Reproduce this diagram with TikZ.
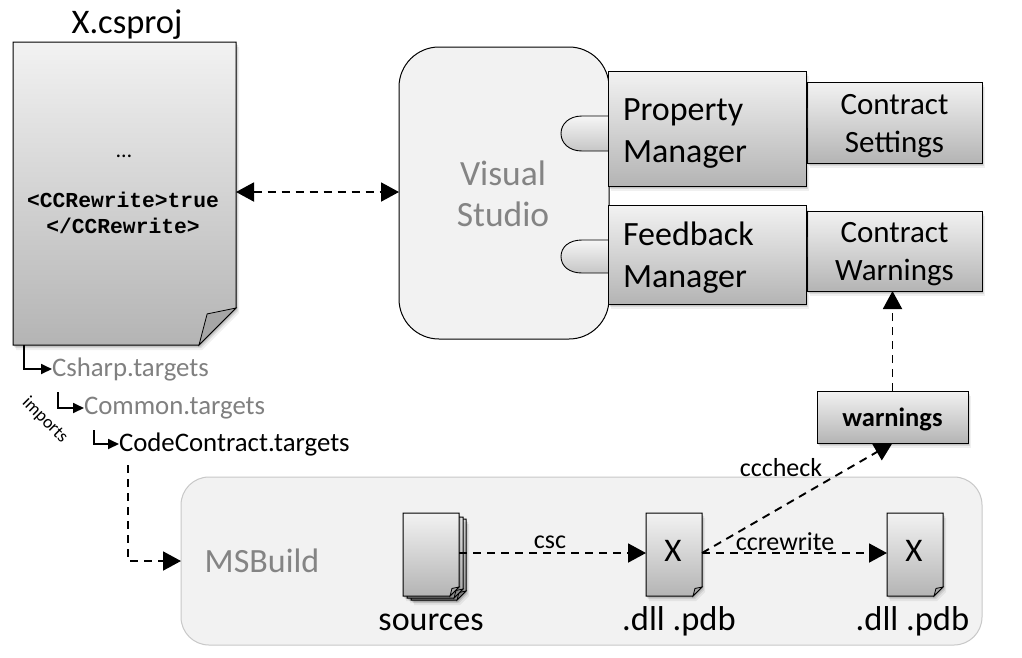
\documentclass[tikz,border=0pt]{standalone}
\usepackage{fontspec}
\setmainfont{Carlito}
\newfontfamily\codefont{Liberation Mono}
\usetikzlibrary{arrows.meta,shadows,positioning}
\newcommand{\fsz}[1]{\fontsize{#1}{#1}\selectfont}
\tikzset{
  softshadow/.style={
    drop shadow={shadow xshift=1pt,shadow yshift=-2pt,opacity=.10,fill=black},
    drop shadow={shadow xshift=2pt,shadow yshift=-3pt,opacity=.09,fill=black},
    drop shadow={shadow xshift=3pt,shadow yshift=-5pt,opacity=.06,fill=black}},
  grad/.style={top color=boxtop,bottom color=boxbot},
  boxed/.style={draw=black,line width=1pt,grad,softshadow,inner sep=0pt,outer sep=0pt},
  anchorbox/.style={inner sep=0pt,outer sep=0pt,minimum width=#1},
  dashline/.style={line width=1.9pt,dash pattern=on 8pt off 6pt,
    -{Triangle[length=18pt,width=19pt]}},
  dblline/.style={line width=1.9pt,dash pattern=on 8pt off 6pt,
    {Triangle[length=18pt,width=19pt]}-{Triangle[length=18pt,width=19pt]}},
  importline/.style={line width=1.8pt,-{Triangle[length=11pt,width=10pt]}},
  lbl/.style={inner sep=0pt,outer sep=0pt},
  fold/.style={draw=black,line width=.8pt,fill=foldgray},
  lolli/.style={draw=black,line width=.9pt,top color=lolltop,bottom color=lollbot}
}
\definecolor{boxtop}{HTML}{F2F2F2}
\definecolor{boxbot}{HTML}{B4B4B4}
\definecolor{lolltop}{HTML}{F6F6F6}
\definecolor{lollbot}{HTML}{C6C6C6}
\definecolor{foldgray}{HTML}{A6A6A6}
\definecolor{panel}{HTML}{F2F2F2}
\definecolor{panelline}{HTML}{C8C8C8}
\definecolor{graytext}{HTML}{808080}
\definecolor{vstext}{HTML}{848484}
% page shape: name, left, top, right, bottom, fold size
\newcommand{\pageshape}[6]{%
  \path[boxed] (#2,#3) -- (#4,#3) -- (#4,#5-#6) -- (#4-#6,#5) -- (#2,#5) -- cycle;
  \path[fold] (#4-#6,#5) -- (#4-#6+.22*#6,#5-.84*#6) -- (#4,#5-#6) -- cycle;
  \node[anchorbox=#4pt-#2pt,minimum height=#5pt-#3pt] (#1) at ({(#2+#4)/2},{(#3+#5)/2}) {};}
\begin{document}
\begin{tikzpicture}[x=1pt,y=-1pt]
\useasboundingbox (0,0) rectangle (1022,657);
\fill[white] (0,0) rectangle (1022,657);

% panels
\node[draw=black,line width=1pt,fill=panel,rounded corners=40pt,minimum width=210pt,minimum height=292pt,inner sep=0pt,outer sep=0pt] (vs) at (504,193) {};
\node[draw=panelline,line width=1pt,fill=panel,rounded corners=28pt,minimum width=801pt,minimum height=168pt,inner sep=0pt,outer sep=0pt] (msb) at (581.5,561) {};
\node[lbl,text=vstext,align=center,font=\fsz{35.5}] (vslabel) at (503,194) {Visual\\[6pt]Studio};
\node[lbl,text=vstext,font=\fsz{34}] (msblabel) at (262,561) {MSBuild};

% project file
\node[lbl,font=\fsz{34.5}] (proj) at (127,25) {X.csproj};
\pageshape{pg}{13}{42}{236}{345}{37}
\node[lbl,font=\fsz{22}] (dots) at (124,156) {…};
\node[lbl,align=center,font={\codefont\bfseries\fsz{21.3}}] (code) at (123,213) {<CCRewrite>true\\[5pt]</CCRewrite>};

% lollipops
\path[lolli] (608,116) -- (582,116) .. controls (569,116) and (561,124) .. (561,133.5) .. controls (561,143) and (569,151) .. (582,151) -- (608,151);
\path[lolli] (608,240) -- (582,240) .. controls (569,240) and (561,247) .. (561,256.5) .. controls (561,266) and (569,273) .. (582,273) -- (608,273);

% second-level boxes
\node[boxed,minimum width=175pt,minimum height=81pt,align=center,font=\fsz{31}] (cs) at (894.5,122.5) {\rule{0pt}{27pt}Contract\\[7pt]Settings};
\node[boxed,minimum width=175pt,minimum height=80pt,align=center,font=\fsz{31}] (cw) at (894.5,251) {\rule{0pt}{27pt}Contract\\[7pt]Warnings};
\path[lolli] (807,108) -- (794,108) .. controls (787,108) and (783,113) .. (783,118) .. controls (783,123) and (787,128) .. (794,128) -- (807,128);
\path[lolli] (807,237) -- (794,237) .. controls (787,237) and (783,242) .. (783,247) .. controls (783,252) and (787,257) .. (794,257) -- (807,257);

% managers
\node[boxed,minimum width=198pt,minimum height=115pt,text width=168pt,align=left,font=\fsz{34}] (pm) at (707,128.5) {\rule{0pt}{32pt}Property\\[8pt]Manager};
\node[boxed,minimum width=198pt,minimum height=99pt,text width=168pt,align=left,font=\fsz{34}] (fm) at (707,254.5) {\rule{0pt}{29pt}Feedback\\[8pt]Manager};

% warnings
\node[boxed,minimum width=151pt,minimum height=52pt,font=\bfseries\fsz{26.5}] (warn) at (892.5,417) {\rule{0pt}{23pt}warnings};

% sources stack
\pageshape{s3}{411}{519}{466}{600}{9}
\pageshape{s2}{407}{517}{463}{598}{9}
\pageshape{src}{403}{513}{459}{596}{9}
\node[lbl,font=\fsz{34}] (srclabel) at (431,622) {sources};

% output files
\pageshape{xa}{646}{513}{702}{596}{9}
\pageshape{xb}{887}{513}{943}{596}{9}
\node[lbl,font=\fsz{33}] (xatext) at (673,551) {X};
\node[lbl,font=\fsz{33}] (xbtext) at (914,551) {X};
\node[lbl,font=\fsz{34.5}] (xalabel) at (679,621) {.dll .pdb};
\node[lbl,font=\fsz{34.5}] (xblabel) at (912.5,621) {.dll .pdb};

% targets
\node[lbl,anchor=west,text=graytext,font=\fsz{26.8}] (t1) at (52,369) {Csharp.targets};
\node[lbl,anchor=west,text=graytext,font=\fsz{26.8}] (t2) at (84,408) {Common.targets};
\node[lbl,anchor=west,font=\fsz{26.8}] (t3) at (119,444) {CodeContract.targets};
\node[lbl,rotate=-45,font=\fsz{18}] (imp) at (45,420) {imports};

\coordinate (i1) at (24,345);
\coordinate (i2) at (58,392);
\coordinate (i3) at (94,430);
\coordinate (d0) at (128,465);
\draw[importline] (i1) |- (t1.west);
\draw[importline] (i2) |- (t2.west);
\draw[importline] (i3) |- (t3.west);
\draw[dashline] (d0) |- (msb.west |- msblabel.west);

% connectors
\draw[dblline] (pg.east |- 0,192) -- (vs.west |- 0,192);
\draw[dashline] (warn.north) -- (cw.south -| warn.north);
\draw[dashline] (src.east |- 0,553) -- (xa.west |- 0,553);
\draw[dashline] (xa.east |- 0,553) -- (xb.west |- 0,553);
\draw[dashline] (xa.east |- 0,553) -- (warn.south);
\node[lbl,font=\fsz{26}] (csc) at (550,542) {csc};
\node[lbl,font=\fsz{26}] (ccr) at (785,542) {ccrewrite};
\node[lbl,font=\fsz{26}] (ccc) at (781,468) {cccheck};
\end{tikzpicture}
\end{document}
